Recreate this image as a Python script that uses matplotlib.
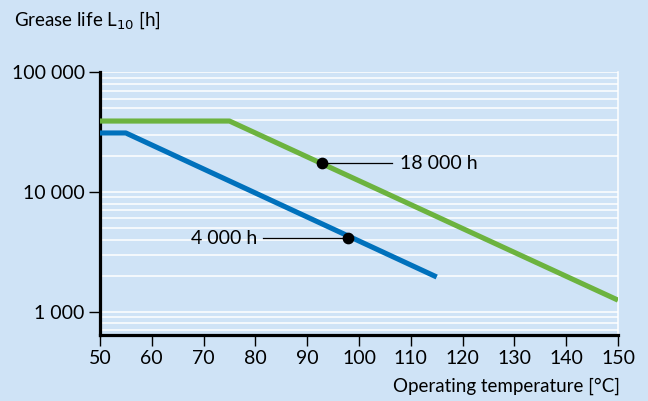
import numpy as np
import matplotlib.pyplot as plt
from matplotlib.ticker import FixedLocator, NullFormatter

plt.rcParams['font.family'] = ['Lato', 'DejaVu Sans']

# grease life curves
green_t = [50, 75, 150]
green_life = [39000, 39000, 1250]
blue_t = [50, 55, 115]
blue_life = [31000, 31000, 1950]

# annotated points
pts_t = [92.8, 97.9]
pts_life = [17400, 4100]
pts_text = ['18 000 h', '4 000 h']

x_ticks = list(range(50, 151, 10))
y_ticks = [1000, 10000, 100000]
y_labels = ['1 000', '10 000', '100 000']

bg = '#cfe3f6'
green = '#6cb33f'
blue = '#0071bc'

fig = plt.figure(figsize=(6.48, 4.01), dpi=100, facecolor=bg)
ax = fig.add_axes([0.1543, 0.1646, 0.7994, 0.6558], facecolor=bg)

ax.set_yscale('log')
ax.set_xlim(50, 150)
ax.set_ylim(640, 100000)

# white grid at every log step
grid_vals = [m * 10 ** k for k in range(2, 5) for m in range(1, 10)] + [100000]
for v in grid_vals:
    if 640 < v <= 100000:
        ax.axhline(v, color='white', lw=1.1, zorder=1)

ax.plot(green_t, green_life, color=green, lw=3.7, solid_capstyle='butt', zorder=3)
ax.plot(blue_t, blue_life, color=blue, lw=3.7, solid_capstyle='butt', zorder=3)

ax.scatter(pts_t, pts_life, s=55, color='black', zorder=5)
ax.plot([pts_t[0], 106.4], [pts_life[0]] * 2, color='black', lw=0.9, zorder=4)
ax.text(108.0, pts_life[0], pts_text[0], fontsize=14, va='center', ha='left')
ax.plot([81.5, pts_t[1]], [pts_life[1]] * 2, color='black', lw=0.9, zorder=4)
ax.text(80.3, pts_life[1], pts_text[1], fontsize=14, va='center', ha='right')

ax.yaxis.set_major_locator(FixedLocator(y_ticks))
ax.set_yticklabels(y_labels)
ax.yaxis.set_minor_formatter(NullFormatter())
ax.tick_params(axis='y', which='minor', length=0)
ax.set_xticks(x_ticks)
ax.tick_params(axis='both', which='major', length=8, width=1.0, labelsize=14,
               direction='out', pad=3)

ax.spines['top'].set_visible(False)
ax.spines['right'].set_color('white')
ax.spines['right'].set_linewidth(1.1)
ax.spines['left'].set_linewidth(2.3)
ax.spines['bottom'].set_linewidth(2.3)

fig.text(14 / 648, 1 - 20 / 401, 'Grease life L$_{10}$ [h]', fontsize=13.5,
         ha='left', va='center')
fig.text(620 / 648, 1 - 386 / 401, 'Operating temperature [°C]', fontsize=13.5,
         ha='right', va='center')

fig.savefig('out.png', dpi=100, facecolor=bg)
